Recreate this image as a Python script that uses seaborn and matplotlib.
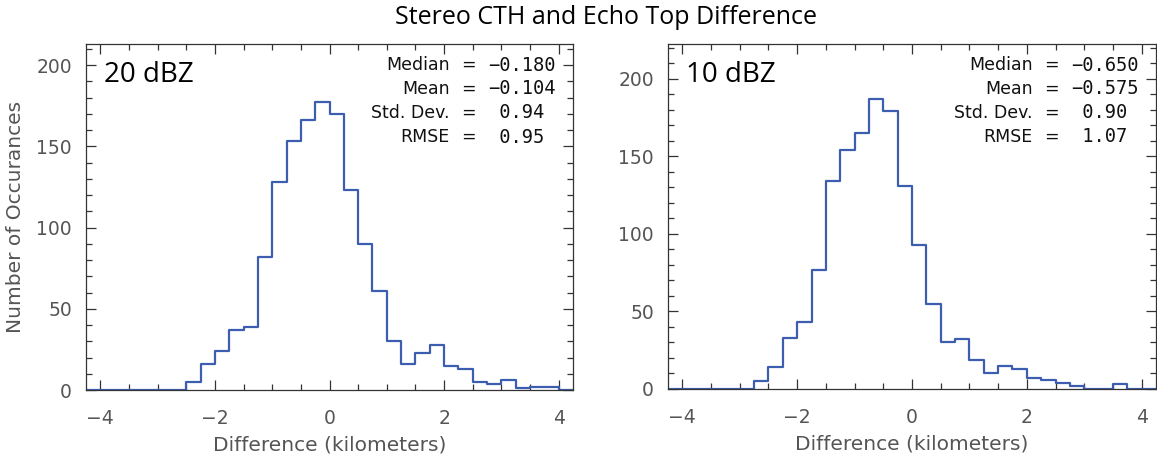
import numpy as np
import pandas as pd
import matplotlib
matplotlib.use("Agg")
import matplotlib.pyplot as plt
import seaborn as sns
from matplotlib.ticker import MultipleLocator

# ---- data ----
bin_start = -4.25
bin_width = 0.25
counts_20dbz = [0, 0, 0, 0, 0, 0, 0,
                5, 16, 24, 37, 39, 82, 128, 153, 166, 177, 170, 123, 90, 61,
                30, 16, 23, 28, 15, 13, 5, 4, 6, 1, 2, 2, 0]
counts_10dbz = [0, 0, 0, 0, 0, 0,
                5, 14, 33, 43, 77, 134, 154, 165, 187, 179, 131, 93, 55, 30,
                32, 19, 10, 15, 13, 7, 6, 4, 2, 0, 0, 3, 0, 0]
panel_labels = ["20 dBZ", "10 dBZ"]
stat_names = ["Median", "Mean", "Std. Dev.", "RMSE"]
stats_20dbz = [-0.180, -0.104, 0.94, 0.95]
stats_10dbz = [-0.650, -0.575, 0.90, 1.07]
stat_decimals = [3, 3, 2, 2]
ylims = [213, 222.5]
xticks = [-4, -2, 0, 2, 4]

sns.set_style("ticks")
plt.rcParams["font.family"] = ["DejaVu Sans"]

fig = plt.figure(figsize=(11.57, 4.58), dpi=100)
ax1 = fig.add_axes([86 / 1157, 68 / 458, 487 / 1157, 346 / 458])
ax2 = fig.add_axes([668 / 1157, 69 / 458, 488 / 1157, 345 / 458])

line_color = "#3d5eb0"
tick_color = "#555555"

for i, (ax, counts, label, stats, ylim) in enumerate(
        zip([ax1, ax2], [counts_20dbz, counts_10dbz], panel_labels,
            [stats_20dbz, stats_10dbz], ylims)):
    n = len(counts)
    edges = [float(e) for e in bin_start + bin_width * np.arange(n + 1)]
    centers = [(edges[k] + edges[k + 1]) / 2 for k in range(n)]
    df = pd.DataFrame({"diff": centers, "count": [float(c) for c in counts]})
    sns.histplot(data=df, x="diff", weights="count", bins=edges,
                 element="step", fill=False, color=line_color,
                 linewidth=1.6, ax=ax)
    ax.set_xlim(-4.25, 4.25)
    ax.set_ylim(0, ylim)
    ax.set_xticks(xticks)
    ax.xaxis.set_minor_locator(MultipleLocator(0.5))
    ax.yaxis.set_major_locator(MultipleLocator(50))
    ax.yaxis.set_minor_locator(MultipleLocator(10))
    ax.set_xticklabels([str(t).replace("-", "\u2212") for t in xticks])
    ax.tick_params(which="both", direction="in", top=True, right=True,
                   color="#333333", width=0.9)
    ax.tick_params(which="major", length=7)
    ax.tick_params(which="minor", length=4)
    ax.tick_params(axis="x", which="major", pad=14, labelsize=13.5,
                   labelcolor=tick_color)
    ax.tick_params(axis="y", which="major", pad=10, labelsize=13.5,
                   labelcolor=tick_color)
    for s in ax.spines.values():
        s.set_color("#333333")
        s.set_linewidth(0.9)
    ax.set_xlabel("Difference (kilometers)", fontsize=14.5, color=tick_color,
                  labelpad=5)
    if i == 0:
        ax.set_ylabel("Number of Occurances", fontsize=14.5, color=tick_color,
                      labelpad=8)
    else:
        ax.set_ylabel("")

    ax.text(0.037, 0.91, label, transform=ax.transAxes, fontsize=20,
            family="Open Sans", ha="left", va="center", color="black")

    ys = [0.939, 0.870, 0.801, 0.731]
    for name, val, dec, yy in zip(stat_names, stats, stat_decimals, ys):
        ax.text(0.747, yy, name, transform=ax.transAxes, fontsize=12.5,
                ha="right", va="center", color="#111111")
        ax.text(0.786, yy, "=", transform=ax.transAxes, fontsize=12.5,
                ha="center", va="center", color="#111111")
        s = f"{val:.{dec}f}".replace("-", "\u2212")
        if val >= 0:
            s = " " + s
        ax.text(0.826, yy, s, transform=ax.transAxes, fontsize=13.5,
                family="DejaVu Sans Mono", ha="left", va="center",
                color="#111111")

fig.text(0.524, 0.961, "Stereo CTH and Echo Top Difference", fontsize=18,
         family="Open Sans", ha="center", va="center", color="black")

fig.savefig("out.png", dpi=100)
